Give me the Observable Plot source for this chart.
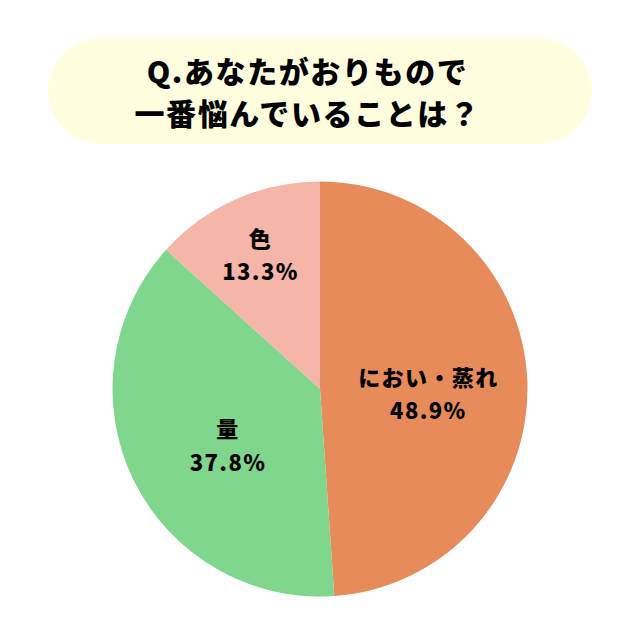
<!DOCTYPE html>
<html lang="ja">
<head>
<meta charset="utf-8">
<script src="https://cdn.jsdelivr.net/npm/d3@7"></script>
<script src="https://cdn.jsdelivr.net/npm/@observablehq/plot@0.6"></script>
<style>
html,body{margin:0;padding:0;background:#fff;width:640px;height:640px;overflow:hidden}
#title{position:absolute;left:48px;top:38px;width:519px;padding-right:25px;height:106px;border-radius:53px;background:#ffffe0;
display:flex;flex-direction:column;align-items:center;justify-content:center;
font-family:"Noto Sans CJK JP",sans-serif;font-weight:900;font-size:30px;line-height:42px;letter-spacing:1.6px;color:#000}
#chart{position:absolute;left:0;top:150px}
#chart text{letter-spacing:1.4px}
svg{display:block}
</style>
</head>
<body>
<div id="title"><div></div><div></div></div>
<div id="chart"></div>
<script>
const categories = ["におい・蒸れ", "量", "色"];
const values = [48.9, 37.8, 13.3];
const colors = ["#e78b5b", "#80d68c", "#f5b5a9"];
const titleLines = ["Q.あなたがおりもので", "一番悩んでいることは？"];
const labelX = [0.52, -0.446, -0.289];
const labelY = [0.012, 0.26, -0.658];

document.querySelectorAll("#title div").forEach((d, i) => d.textContent = titleLines[i]);

const W = 640, H = 490, R = 207.5, CX = 320, CY = 239;
const rows = categories.map((category, i) => ({category, value: values[i]}));
const arcs = d3.pie().sort(null).value(d => d.value)(rows);
const labels = arcs.map((a, i) => ({
  x: labelX[i],
  y: labelY[i],
  text: a.data.category + "\n" + a.data.value.toFixed(1) + "%"
}));

const chart = Plot.plot({
  width: W, height: H, margin: 0,
  x: {domain: [-CX / R, (W - CX) / R], range: [0, W], axis: null},
  y: {domain: [-CY / R, (H - CY) / R], range: [0, H], axis: null},
  style: {background: "transparent"},
  marks: [
    (index, scales) => {
      const g = d3.create("svg:g");
      const px = scales.x(1) - scales.x(0);
      const arc = d3.arc().innerRadius(0).outerRadius(px);
      g.attr("transform", `translate(${scales.x(0)},${scales.y(0)})`)
        .selectAll("path").data(arcs).join("path")
        .attr("d", arc)
        .attr("fill", (d, i) => colors[i]);
      return g.node();
    },
    Plot.text(labels, {
      x: "x", y: "y", text: "text",
      fontFamily: "'Noto Sans CJK JP', sans-serif",
      fontWeight: 900, fontSize: 22, lineHeight: 1.52, fill: "#000"
    })
  ]
});
document.getElementById("chart").append(chart);
</script>
</body>
</html>
